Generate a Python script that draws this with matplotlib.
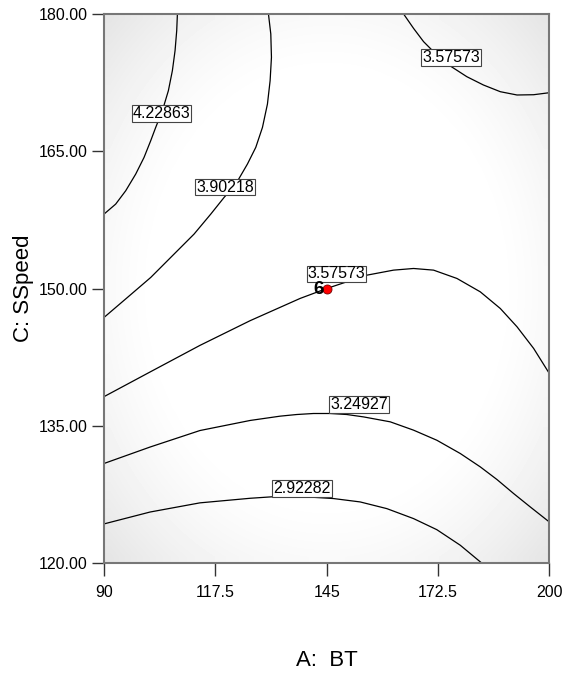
import numpy as np
import matplotlib.pyplot as plt

plt.rcParams['font.family'] = ['Liberation Sans', 'DejaVu Sans']

# contour levels of the response and their traced paths (BT, SSpeed)
levels = [4.22863, 3.90218, 3.57573, 3.57573, 3.24927, 2.92282]

bt_1 = [90.0, 92.88, 95.36, 97.83, 99.89, 101.54, 102.77, 104.42, 105.90,
        106.89, 107.55, 107.96, 108.13]
ss_1 = [158.14, 159.23, 160.69, 162.51, 164.33, 166.16, 167.61, 169.44,
        171.62, 173.81, 175.99, 178.18, 180.0]

bt_2 = [90.0, 95.77, 101.54, 107.30, 112.25, 116.37, 119.66, 122.55, 125.43,
        127.49, 129.14, 130.37, 131.03, 131.36, 131.20, 130.62]
ss_2 = [146.85, 149.03, 151.22, 153.77, 155.96, 158.14, 159.96, 161.42,
        163.61, 165.43, 167.61, 170.16, 172.71, 175.26, 177.81, 180.0]

bt_3 = [164.0, 166.46, 168.93, 170.98, 175.53, 179.62, 183.73, 187.89,
        192.02, 196.12, 200.0]
ss_3 = [180.0, 178.43, 176.98, 176.07, 174.32, 173.15, 172.24, 171.51,
        171.15, 171.18, 171.40]

bt_4 = [90.0, 101.4, 113.7, 126.1, 138.45, 145.05, 154.93, 161.52, 166.46,
        171.40, 177.18, 182.94, 187.89, 192.02, 196.12, 200.0]
ss_4 = [138.2, 140.9, 143.8, 146.5, 148.93, 150.02, 151.47, 152.02, 152.20,
        152.02, 151.11, 149.65, 147.83, 145.83, 143.47, 140.73]

bt_5 = [90.0, 101.4, 113.7, 126.1, 133.51, 137.63, 141.74, 145.86, 149.97,
        154.09, 160.70, 166.46, 172.21, 178.00, 182.94, 187.06, 191.17,
        195.30, 200.0]
ss_5 = [130.9, 132.7, 134.5, 135.6, 136.07, 136.25, 136.36, 136.36, 136.25,
        135.99, 135.45, 134.54, 133.44, 131.99, 130.53, 129.15, 127.62,
        126.15, 124.51]

bt_6 = [90.0, 101.4, 113.7, 126.1, 133.51, 140.09, 146.68, 153.28, 159.86,
        166.46, 172.21, 178.00, 183.36]
ss_6 = [124.3, 125.6, 126.6, 127.1, 127.32, 127.25, 127.07, 126.70, 125.97,
        124.88, 123.67, 121.97, 120.0]

paths = [(bt_1, ss_1), (bt_2, ss_2), (bt_3, ss_3),
         (bt_4, ss_4), (bt_5, ss_5), (bt_6, ss_6)]

# where each level label sits
label_bt = [104.2, 119.9, 175.7, 147.4, 153.0, 138.9]
label_ss = [169.1, 161.1, 175.2, 151.6, 137.3, 128.2]

# design point and its replicate count
pt_bt, pt_ss, pt_n = 145.0, 150.0, 6

x_ticks = [90, 117.5, 145, 172.5, 200]
y_ticks = [120, 135, 150, 165, 180]

fig = plt.figure(figsize=(5.64, 6.85), dpi=100)
ax = fig.add_axes([0.1844, 0.1777, 0.7896, 0.8019])

# soft grey shading towards the corners of the plot area
gx, gy = np.meshgrid(np.linspace(-1, 1, 36), np.linspace(-1, 1, 44))
d = np.sqrt(gx ** 2 + gy ** 2) / np.sqrt(2)
shade = 1 - 0.10 * np.clip((d - 0.55) / 0.45, 0, 1) ** 1.4
ax.imshow(shade, cmap='gray', vmin=0, vmax=1, extent=[90, 200, 120, 180],
          aspect='auto', interpolation='bilinear', zorder=0)

for bt, ss in paths:
    ax.plot(bt, ss, color='black', lw=0.9, zorder=2)

for lv, lx, ly in zip(levels, label_bt, label_ss):
    ax.text(lx, ly, '%.5f' % lv, fontsize=11.5, ha='center', va='center',
            zorder=4,
            bbox=dict(boxstyle='square,pad=0.06', fc='white', ec='#444444',
                      lw=0.8))

ax.plot(pt_bt, pt_ss, 'o', ms=6.5, mfc='red', mec='#700000', mew=0.6, zorder=5)
ax.annotate(str(pt_n), (pt_bt, pt_ss), xytext=(-2.0, -0.8),
            textcoords='offset points', ha='right', va='center',
            fontsize=13.5, fontweight='bold', zorder=5)

ax.set_xlim(90, 200)
ax.set_ylim(120, 180)
ax.set_xticks(x_ticks)
ax.set_xticklabels(['90', '117.5', '145', '172.5', '200'])
ax.set_yticks(y_ticks)
ax.set_yticklabels(['%.2f' % v for v in y_ticks])
ax.tick_params(axis='both', direction='out', length=9, width=1,
               color='#333333', labelsize=11.5)
ax.tick_params(axis='y', pad=3)
ax.tick_params(axis='x', pad=7)
for s in ax.spines.values():
    s.set_color('#777777')
    s.set_linewidth(1.5)

ax.set_xlabel('A:  BT', fontsize=16, labelpad=36)
ax.set_ylabel('C: SSpeed', fontsize=16, labelpad=3)

fig.savefig('out.png', dpi=100)
